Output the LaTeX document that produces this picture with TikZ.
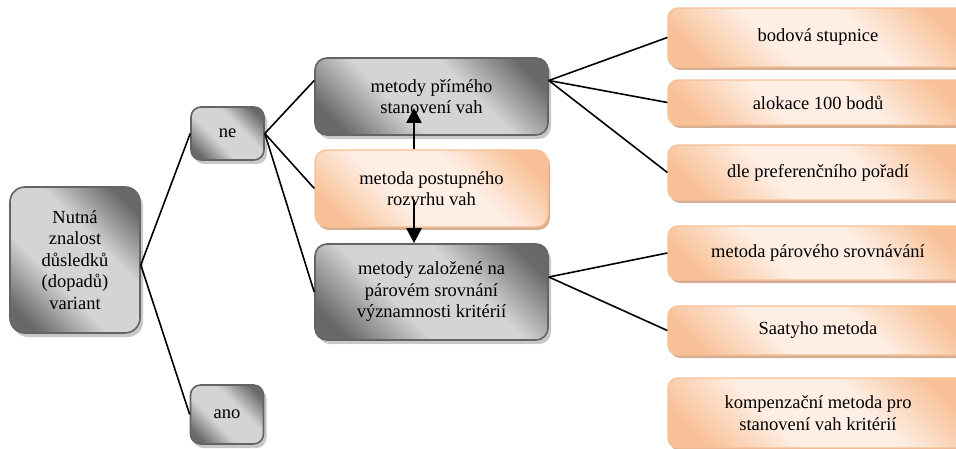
\documentclass[tikz,border=0pt]{standalone}
\usepackage{fontspec}
\setmainfont{Liberation Serif}
\usetikzlibrary{arrows.meta,calc,shadows}
\definecolor{gdark}{RGB}{105,105,105}
\definecolor{glight}{RGB}{212,212,212}
\definecolor{gborder}{RGB}{100,100,100}
\definecolor{gshadow}{RGB}{200,200,200}
\definecolor{odark}{RGB}{248,192,150}
\definecolor{olight}{RGB}{254,238,227}
\definecolor{oborder}{RGB}{248,192,148}
\definecolor{oshadow}{RGB}{212,175,148}
\pgfdeclareverticalshading{gshade}{100bp}{color(0bp)=(gdark); color(22bp)=(gdark); color(40bp)=(glight); color(60bp)=(glight); color(78bp)=(gdark); color(100bp)=(gdark)}
\pgfdeclareverticalshading{oshade}{100bp}{color(0bp)=(odark); color(22bp)=(odark); color(40bp)=(olight); color(60bp)=(olight); color(78bp)=(odark); color(100bp)=(odark)}
\tikzset{
  txt/.style={align=center, font=\fontsize{18.5}{21.5}\selectfont, text=black, inner sep=0pt},
  gbox/.style={txt, rounded corners=12pt, draw=gborder, line width=1.6pt,
    shading=gshade, shading angle=-45,
    drop shadow={shadow xshift=3pt, shadow yshift=-4pt, fill=gshadow, opacity=1}},
  obox/.style={txt, rounded corners=10pt, draw=oborder, line width=1.3pt,
    shading=oshade, shading angle=-45,
    drop shadow={shadow xshift=2pt, shadow yshift=-3pt, fill=oshadow, opacity=1}},
  conn/.style={line width=1.6pt, black},
  arr/.style={line width=2.6pt, black, -{Triangle[width=15pt,length=15pt]}}
}
\begin{document}
\begin{tikzpicture}[x=1pt,y=-1pt]
\useasboundingbox (0,0) rectangle (956,449);
\clip (0,0) rectangle (956,449);
\fill[white] (0,0) rectangle (956,449);
% left column
\node[gbox, rounded corners=15pt, minimum width=130pt, minimum height=146pt] (nut) at (75,260) {Nutná\\znalost\\důsledků\\(dopadů)\\variant};
\node[gbox, rounded corners=10pt, minimum width=73pt, minimum height=53pt] (ne) at (227.5,133.5) {ne};
\node[gbox, rounded corners=10pt, minimum width=73pt, minimum height=59pt] (ano) at (227,414.5) {ano};
% middle column
\node[gbox, minimum width=233pt, minimum height=77pt] (pri) at (431.5,96.5) {metody přímého\\stanovení vah};
\node[obox, rounded corners=12pt, minimum width=233pt, minimum height=77pt] (post) at (431.5,188.5) {metoda postupného\\rozvrhu vah};
\node[gbox, minimum width=233pt, minimum height=96pt] (zal) at (431.5,292) {metody založené na\\párovém srovnání\\významnosti kritérií};
% right column
\node[obox, minimum width=300pt, minimum height=59pt] (bod) at (818,37.5) {bodová stupnice};
\node[obox, minimum width=300pt, minimum height=45pt] (alo) at (818,102.5) {alokace 100 bodů};
\node[obox, minimum width=300pt, minimum height=55pt] (dle) at (818,172.5) {dle preferenčního pořadí};
\node[obox, minimum width=300pt, minimum height=54pt] (par) at (818,253) {metoda párového srovnávání};
\node[obox, minimum width=300pt, minimum height=49pt] (saa) at (818,330.5) {Saatyho metoda};
\node[obox, minimum width=300pt, minimum height=70pt] (kom) at (818,413) {kompenzační metoda pro\\stanovení vah kritérií};
% connection points
\coordinate (nutR) at ($(nut.east)+(0,5)$);
\coordinate (priL) at ($(pri.west)+(0,-16)$);
\coordinate (priR) at ($(pri.east)+(0,-16)$);
\coordinate (zalR) at ($(zal.east)+(0,-15)$);
\coordinate (ax) at (414,0);
\coordinate (upend) at (414,108);
\coordinate (downstart) at (414,200);
% connectors
\draw[conn] (nutR) -- (ne.west);
\draw[conn] (nutR) -- (ano.west);
\draw[conn] (ne.east) -- (priL);
\draw[conn] (ne.east) -- (post.west);
\draw[conn] (ne.east) -- (zal.west);
\draw[conn] (priR) -- (bod.west);
\draw[conn] (priR) -- (alo.west);
\draw[conn] (priR) -- (dle.west);
\draw[conn] (zalR) -- (par.west);
\draw[conn] (zalR) -- (saa.west);
% arrows
\draw[arr] (post.north -| ax) -- (upend);
\draw[arr] (downstart) -- (zal.north -| ax);
\end{tikzpicture}
\end{document}
